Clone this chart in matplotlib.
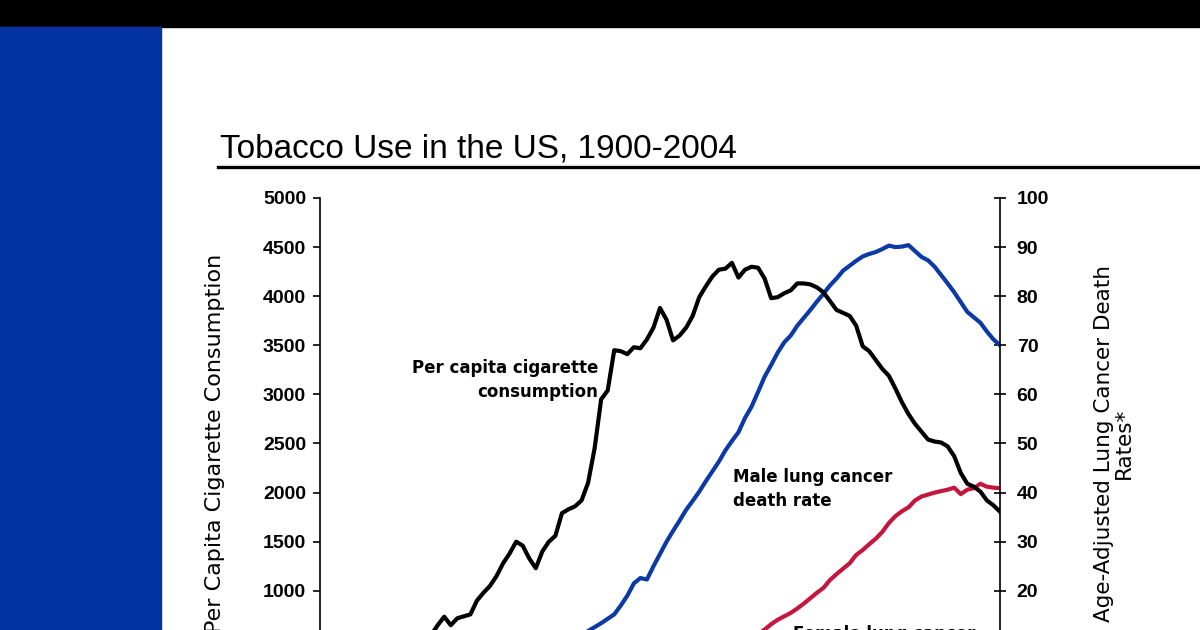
import numpy as np
import matplotlib
matplotlib.use("Agg")
import matplotlib.pyplot as plt
from matplotlib.patches import Rectangle
from matplotlib.lines import Line2D

# Data (years 1900-2004, lung cancer rates from 1930)
years = list(range(1900, 2005))
cigarettes = [
    54, 53, 60, 64, 66, 70, 86, 99, 105, 125,
    151, 173, 223, 260, 267, 285, 395, 551, 650, 736,
    650, 720, 740, 760, 900, 980, 1050, 1150, 1280, 1380,
    1500, 1460, 1330, 1230, 1400, 1500, 1560, 1790, 1830, 1860,
    1920, 2100, 2450, 2950, 3040, 3450, 3440, 3410, 3480, 3470,
    3560, 3680, 3880, 3760, 3550, 3600, 3680, 3800, 3990, 4100,
    4200, 4270, 4280, 4340, 4190, 4270, 4300, 4290, 4180, 3980,
    3990, 4030, 4060, 4130, 4130, 4120, 4090, 4040, 3950, 3860,
    3830, 3800, 3700, 3490, 3440, 3350, 3260, 3190, 3060, 2920,
    2800, 2700, 2620, 2540, 2520, 2510, 2470, 2370, 2200, 2090,
    2060, 2010, 1920, 1870, 1805,
]
rate_years = list(range(1930, 2005))
male_rate = [
    4.9, 5.3, 5.8, 6.4, 6.9, 7.5, 8.2, 8.9, 9.6, 10.3,
    11.0, 11.8, 12.6, 13.4, 14.3, 15.2, 17.0, 19.0, 21.5, 22.6,
    22.3, 25.0, 27.5, 30.0, 32.2, 34.3, 36.5, 38.3, 40.2, 42.3,
    44.3, 46.3, 48.6, 50.5, 52.3, 55.2, 57.5, 60.5, 63.6, 66.0,
    68.5, 70.6, 72.0, 74.0, 75.6, 77.2, 78.9, 80.5, 82.2, 83.6,
    85.2, 86.2, 87.2, 88.1, 88.6, 89.0, 89.6, 90.3, 90.0, 90.1,
    90.4, 89.2, 88.0, 87.3, 86.0, 84.3, 82.6, 80.8, 78.8, 76.8,
    75.7, 74.6, 72.8, 71.2, 70.0,
]
female_rate = [
    2.0, 2.1, 2.2, 2.3, 2.4, 2.5, 2.6, 2.7, 2.8, 2.9,
    3.0, 3.1, 3.2, 3.3, 3.4, 3.6, 3.8, 4.0, 4.2, 4.3,
    4.5, 4.6, 4.8, 4.9, 5.0, 5.2, 5.4, 5.6, 5.8, 6.1,
    6.4, 6.9, 7.5, 8.1, 8.8, 9.5, 10.3, 11.2, 12.1, 13.2,
    14.1, 14.8, 15.5, 16.4, 17.4, 18.5, 19.6, 20.6, 22.2, 23.4,
    24.5, 25.6, 27.3, 28.3, 29.5, 30.6, 32.0, 33.8, 35.2, 36.2,
    37.0, 38.4, 39.2, 39.6, 40.0, 40.3, 40.6, 41.0, 39.7, 40.6,
    40.9, 41.8, 41.2, 41.0, 40.9,
]
left_ticks = [0, 500, 1000, 1500, 2000, 2500, 3000, 3500, 4000, 4500, 5000]
right_ticks = [0, 10, 20, 30, 40, 50, 60, 70, 80, 90, 100]

narrow = ["Liberation Sans Narrow", "Liberation Sans", "DejaVu Sans"]
sans = ["Liberation Sans", "DejaVu Sans"]
wide = ["DejaVu Sans"]
plt.rcParams["font.family"] = sans

fig = plt.figure(figsize=(12, 6.3), dpi=100)

# slide decoration: black top band, blue left band
fig.patches.append(Rectangle((0, 1 - 27 / 630), 1, 27 / 630, transform=fig.transFigure,
                             color="black", zorder=0))
fig.patches.append(Rectangle((0, 0), 161 / 1200, 1 - 27 / 630, transform=fig.transFigure,
                             color="#0333a3", zorder=0))
fig.text(220 / 1200, 1 - 157 / 630, "Tobacco Use in the US, 1900-2004", family=narrow,
         fontsize=24, va="baseline", ha="left")
fig.add_artist(Line2D([218 / 1200, 1.0], [1 - 167.5 / 630] * 2, transform=fig.transFigure,
                      color="black", lw=2.4))

ax = fig.add_axes([320 / 1200, 1 - 689 / 630, 680 / 1200, 491 / 630])
ax2 = ax.twinx()

ax.plot(years, cigarettes, color="black", lw=3, solid_joinstyle="round", zorder=3)
ax2.plot(rate_years, male_rate, color="#0b3aa6", lw=3, solid_joinstyle="round")
ax2.plot(rate_years, female_rate, color="#c4163f", lw=3, solid_joinstyle="round")

ax.set_xlim(1900, 2004)
ax.set_ylim(0, 5000)
ax2.set_ylim(0, 100)
ax.set_zorder(ax2.get_zorder() + 1)
ax.patch.set_visible(False)

for a in (ax, ax2):
    a.spines["top"].set_visible(False)
    a.spines["bottom"].set_visible(False)
    a.set_xticks([])
ax.spines["right"].set_visible(False)
ax2.spines["left"].set_visible(False)
ax.spines["left"].set_linewidth(1.2)
ax2.spines["right"].set_linewidth(1.2)

ax.set_yticks(left_ticks)
ax.tick_params(axis="y", direction="out", length=5, width=1.2, pad=5, labelsize=14)
ax2.set_yticks(right_ticks)
ax2.tick_params(axis="y", direction="inout", length=8, width=1.2, pad=8, labelsize=14)
for lab in ax.get_yticklabels() + ax2.get_yticklabels():
    lab.set_fontweight("bold")
    lab.set_family(narrow)

# axis titles placed directly on the figure
fig.text(215 / 1200, 1 - 443.5 / 630, "Per Capita Cigarette Consumption", family=wide,
         fontsize=16, rotation=90, ha="center", va="center")
fig.text(1114 / 1200, 1 - 443.5 / 630, "Age-Adjusted Lung Cancer Death\nRates*", family=wide,
         fontsize=15.5, rotation=90, ha="center", va="center", linespacing=0.95)

ax.text(1942.5, 3150, "Per capita cigarette\nconsumption", ha="right", va="center",
        multialignment="right", fontsize=12, fontweight="bold", family=wide,
        linespacing=1.42)
ax.text(1963.2, 2040, "Male lung cancer\ndeath rate", ha="left", va="center",
        fontsize=12, fontweight="bold", family=wide, linespacing=1.42)
ax.text(1972.3, 650, "Female lung cancer\ndeath rate", ha="left", va="top",
        fontsize=12, fontweight="bold", family=wide, linespacing=1.42)

fig.savefig("out.png", dpi=100)
